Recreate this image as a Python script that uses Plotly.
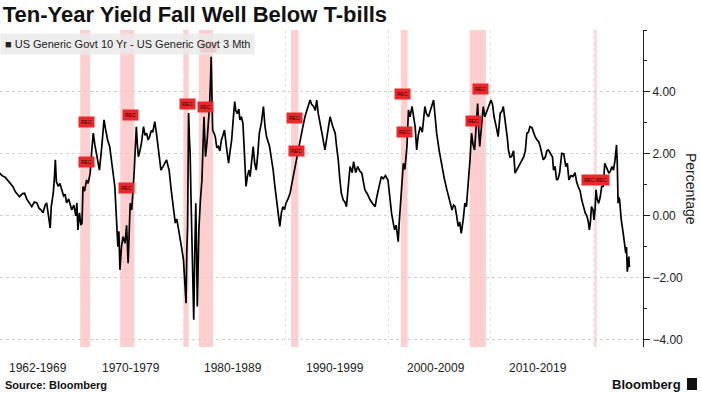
import plotly.graph_objects as go

# ---- data (decimal years, spread in percentage points) ----
years = [1962.0,1962.3,1962.6,1962.9,1963.1,1963.35,1963.6,1963.8,1964.0,1964.3,1964.5,1964.7,1965.0,1965.2,1965.45,1965.7,1965.9,
1966.1,1966.3,1966.5,1966.65,1966.8,1967.0,1967.1,1967.3,1967.4,1967.5,1967.6,1967.8,1967.95,1968.1,1968.3,1968.45,1968.6,1968.8,
1969.0,1969.1,1969.3,1969.5,1969.6,1969.7,1969.85,1970.0,1970.1,1970.2,1970.35,1970.55,1970.7,1970.9,1971.05,1971.2,1971.35,1971.5,
1971.65,1971.8,1972.0,1972.15,1972.25,1972.4,1972.6,1972.8,1972.95,1973.1,1973.3,1973.45,1973.6,1973.7,1973.8,1973.95,1974.1,1974.3,
1974.45,1974.6,1974.7,1974.8,1974.95,1975.1,1975.2,1975.3,1975.4,1975.5,1975.6,1975.75,1975.9,1976.1,1976.25,1976.4,1976.55,1976.7,
1976.85,1977.0,1977.2,1977.35,1977.5,1977.65,1977.8,1978.0,1978.2,1978.35,1978.5,1978.6,1978.8,1979.0,1979.2,1979.35,1979.5,1979.65,
1979.8,1980.0,1980.1,1980.15,1980.25,1980.32,1980.4,1980.45,1980.5,1980.58,1980.65,1980.72,1980.8,1980.88,1980.95,1981.0,1981.1,1981.2,
1981.27,1981.35,1981.42,1981.5,1981.65,1981.8,1981.9,1982.0,1982.08,1982.15,1982.3,1982.4,1982.55,1982.65,1982.7,1982.78,1982.85,1983.0,
1983.1,1983.25,1983.4,1983.55,1983.7,1983.85,1984.0,1984.2,1984.4,1984.55,1984.7,1984.85,1985.0,1985.1,1985.25,1985.4,1985.5,1985.65,
1985.8,1985.95,1986.1,1986.25,1986.4,1986.5,1986.65,1986.8,1986.95,1987.1,1987.25,1987.4,1987.6,1987.8,1987.95,1988.1,1988.25,1988.4,
1988.6,1988.75,1988.9,1989.1,1989.25,1989.4,1989.55,1989.7,1989.85,1990.0,1990.2,1990.4,1990.55,1990.7,1990.85,1991.0,1991.2,1991.4,
1991.6,1991.85,1992.1,1992.35,1992.5,1992.7,1992.85,1993.0,1993.15,1993.3,1993.55,1993.8,1994.0,1994.3,1994.55,1994.8,1994.95,1995.1,
1995.25,1995.4,1995.6,1995.75,1995.9,1996.05,1996.25,1996.45,1996.6,1996.8,1997.0,1997.2,1997.4,1997.55,1997.7,1997.95,1998.2,1998.45,
1998.7,1998.85,1999.0,1999.15,1999.3,1999.5,1999.7,1999.95,2000.1,2000.3,2000.45,2000.6,2000.75,2000.95,2001.05,2001.15,2001.3,2001.45,
2001.6,2001.8,2001.95,2002.1,2002.3,2002.45,2002.6,2002.75,2002.9,2003.1,2003.3,2003.55,2003.7,2003.9,2004.1,2004.4,2004.55,2004.7,
2004.95,2005.2,2005.45,2005.7,2005.95,2006.2,2006.35,2006.5,2006.65,2006.8,2006.95,2007.1,2007.3,2007.45,2007.6,2007.8,2007.95,2008.1,
2008.25,2008.4,2008.55,2008.7,2008.8,2008.9,2009.05,2009.25,2009.4,2009.5,2009.75,2010.0,2010.15,2010.3,2010.5,2010.7,2010.9,2011.1,
2011.2,2011.35,2011.5,2011.6,2011.7,2011.85,2012.0,2012.2,2012.35,2012.55,2012.8,2013.0,2013.2,2013.35,2013.5,2013.65,2013.8,2014.0,
2014.15,2014.3,2014.5,2014.65,2014.8,2014.95,2015.1,2015.3,2015.45,2015.6,2015.8,2016.0,2016.1,2016.25,2016.4,2016.55,2016.7,2016.9,
2017.1,2017.3,2017.45,2017.6,2017.8,2018.0,2018.2,2018.35,2018.5,2018.7,2018.85,2019.0,2019.2,2019.35,2019.5,2019.6,2019.7,2019.8,
2019.95,2020.05,2020.15,2020.25,2020.35,2020.5,2020.65,2020.8,2020.95,2021.1,2021.25,2021.5,2021.65,2021.8,2021.95,2022.1,2022.25,
2022.32,2022.4,2022.47,2022.55,2022.7,2022.9,2023.0,2023.15,2023.22,2023.3,2023.38,2023.45,2023.5]

spread = [1.40,1.30,1.25,1.15,1.05,0.95,0.78,0.70,0.62,0.72,0.73,0.55,0.40,0.30,0.45,0.42,0.25,
0.20,0.10,0.35,0.42,0.05,-0.39,0.30,0.74,1.20,1.81,1.10,0.95,1.05,0.84,0.65,0.70,0.42,0.55,
0.30,0.19,0.35,0.00,0.42,-0.45,0.10,-0.30,-0.23,0.95,0.80,1.16,1.05,1.38,2.10,2.67,2.30,2.03,
1.75,1.48,2.13,2.70,3.10,2.80,2.45,2.24,1.80,1.40,0.95,0.00,-0.99,-0.50,-1.74,-1.00,-0.67,-0.88,
-0.30,-1.53,-0.20,0.41,0.19,0.90,1.48,2.20,2.88,2.30,1.91,2.10,2.35,2.88,2.60,2.67,2.45,2.56,
2.75,2.70,3.04,2.70,2.34,1.90,1.48,1.59,1.70,1.81,1.60,1.48,0.84,0.30,-0.23,-0.10,-0.45,-0.70,
-0.99,-1.42,-1.90,-2.39,-2.82,-1.20,-0.34,1.50,3.32,2.50,2.03,0.80,-0.45,-1.50,-2.60,-3.35,-1.20,0.41,
-1.00,-2.92,-1.80,-0.45,0.50,1.16,2.20,3.20,2.50,1.91,2.40,2.77,3.60,4.50,5.14,3.80,2.77,2.65,
2.56,2.20,2.24,2.10,2.45,2.60,2.77,2.20,1.70,2.10,2.45,3.10,3.69,3.40,3.30,3.45,3.10,3.20,
2.99,2.00,0.95,1.30,1.48,1.27,1.90,2.24,1.70,1.48,2.00,2.67,3.00,3.53,2.90,2.56,2.40,2.24,
1.80,1.48,1.00,0.52,0.10,-0.34,0.10,0.30,0.20,0.41,0.55,0.73,1.00,1.27,1.50,1.81,2.20,2.56,
2.80,3.20,3.50,3.74,3.60,3.53,3.40,3.74,3.30,2.99,2.60,2.13,2.60,3.20,2.90,2.67,2.20,1.81,
1.20,0.73,0.50,0.45,0.30,0.80,1.59,1.40,1.75,1.40,1.59,1.45,1.38,1.10,0.84,0.70,0.52,0.40,
0.30,0.60,0.84,1.00,1.27,1.20,1.30,1.16,0.60,0.09,-0.20,-0.45,-0.30,-0.83,-0.20,0.30,1.00,1.70,
1.50,2.24,3.42,3.20,3.53,3.20,2.88,2.13,2.60,2.88,2.70,3.53,3.30,3.20,3.40,3.74,3.20,2.67,
2.10,1.59,1.20,0.84,0.50,0.19,0.35,0.30,0.00,-0.34,-0.20,-0.56,-0.10,0.41,0.30,1.05,1.80,2.67,
2.30,2.13,2.80,3.63,2.80,2.24,2.80,3.53,3.20,3.30,3.50,3.74,3.60,3.20,2.90,2.56,3.31,3.40,
3.53,3.20,2.88,2.50,2.13,1.90,1.91,2.10,1.38,1.50,1.70,1.80,1.91,2.10,2.67,2.70,2.88,2.85,
2.70,2.56,2.45,2.40,2.24,2.00,1.81,1.90,2.10,2.13,2.00,1.90,1.48,1.60,1.16,1.20,1.40,2.02,
2.00,1.59,1.70,1.16,1.30,1.27,1.40,1.10,0.95,0.80,0.52,0.30,0.09,0.00,-0.20,-0.45,-0.20,0.30,
0.20,-0.13,0.20,0.84,0.55,0.41,0.60,0.95,0.95,1.70,1.60,1.38,1.45,1.59,1.48,1.80,2.29,
1.70,0.41,0.60,0.52,-0.10,-0.56,-0.80,-1.20,-1.00,-1.80,-1.55,-1.31,-1.65]

# NBER recessions
rec_start = [1969.92, 1973.83, 1980.0, 1981.5, 1990.5, 2001.2, 2007.92, 2020.1]
rec_end   = [1970.88, 1975.2, 1980.5, 1982.87, 1991.2, 2001.87, 2009.5, 2020.3]

# "REC" flag markers
flag_x = [1970.5, 1970.5, 1974.8, 1974.4, 1980.35, 1982.1, 1982.4, 1990.8, 1991.0, 2001.4, 2001.6, 2008.3, 2009.0, 2020.15]
flag_y = [3.02, 1.74, 3.26, 0.90, 3.62, 3.50, 5.46, 3.16, 2.11, 3.92, 2.72, 3.06, 4.10, 1.16]
flag_t = ["REC"] * 13 + ["REC REC"]

decade_labels = ["1962-1969", "1970-1979", "1980-1989", "1990-1999", "2000-2009", "2010-2019"]
decade_pos = [1965.8, 1974.9, 1984.8, 1994.8, 2004.6, 2014.6]
grid_years = [1970, 1980, 1990, 2000, 2010, 2020]
y_ticks = [-4, -2, 0, 2, 4]

FONT = "Liberation Sans"

fig = go.Figure()
fig.add_trace(go.Scatter(x=years, y=spread, mode="lines",
                         line=dict(color="black", width=1.7), showlegend=False,
                         hoverinfo="skip"))

for s, e in zip(rec_start, rec_end):
    fig.add_shape(type="rect", xref="x", yref="paper", x0=s, x1=e, y0=0, y1=1,
                  fillcolor="rgba(255,160,160,0.5)", line=dict(width=0), layer="below")

ann = []
for x, y, t in zip(flag_x, flag_y, flag_t):
    ann.append(dict(x=x, y=y, xref="x", yref="y", text=t, showarrow=False,
                    font=dict(family=FONT, size=5, color="#3a0000"),
                    bgcolor="#e8282a", borderpad=2))

for lab, pos in zip(decade_labels, decade_pos):
    ann.append(dict(x=pos, y=0, xref="x", yref="paper", yanchor="middle", yshift=-21,
                    text=lab, showarrow=False, font=dict(family=FONT, size=12, color="#222")))

# legend box
ann.append(dict(x=0, y=(347 - 33) / 317, xref="paper", yref="paper", xanchor="left", yanchor="top",
                text="■ US Generic Govt 10 Yr - US Generic Govt 3 Mth", showarrow=False,
                font=dict(family=FONT, size=11, color="#222"),
                bgcolor="rgba(234,234,234,0.85)", borderpad=4, align="left"))
# axis title
ann.append(dict(x=691 / 643, y=(347 - 189) / 317, xref="paper", yref="paper",
                xanchor="center", yanchor="middle",
                text="Percentage", textangle=90, showarrow=False,
                font=dict(family=FONT, size=14, color="#222")))
# source / branding
ann.append(dict(x=3 / 643, y=(347 - 385) / 317, xref="paper", yref="paper", xanchor="left",
                yanchor="middle", text="<b>Source: Bloomberg</b>", showarrow=False,
                font=dict(family=FONT, size=11, color="#111")))
ann.append(dict(x=683 / 643, y=(347 - 384) / 317, xref="paper", yref="paper", xanchor="right",
                yanchor="middle", text="<b>Bloomberg</b>", showarrow=False,
                font=dict(family=FONT, size=13, color="#111")))

fig.add_shape(type="rect", xref="paper", yref="paper",
              x0=687 / 643, x1=697 / 643, y0=(347 - 390) / 317, y1=(347 - 378) / 317,
              fillcolor="#111", line=dict(width=0))

fig.update_layout(
    width=701, height=393,
    margin=dict(l=0, r=58, t=30, b=46),
    paper_bgcolor="white", plot_bgcolor="white",
    title=dict(text="<b>Ten-Year Yield Fall Well Below T-bills</b>", x=0.004, xanchor="left",
               xref="container", y=1 - 14 / 393, yanchor="middle", yref="container",
               font=dict(family=FONT, size=22, color="#111")),
    annotations=ann,
    showlegend=False,
)
fig.update_xaxes(range=[1962.1, 2024.83], showline=False, zeroline=False, ticks="",
                 showticklabels=False, tickvals=grid_years, showgrid=True,
                 gridcolor="#e4e4e4", griddash="dot", gridwidth=1)
fig.update_yaxes(range=[-4.23, 6.0], side="right", showline=True, linecolor="#222", linewidth=1,
                 ticks="outside", ticklen=6, tickcolor="#222", tickvals=y_ticks, tickformat=".2f",
                 tickfont=dict(family=FONT, size=12, color="#222"),
                 minor=dict(dtick=1, ticks="outside", ticklen=3, tickcolor="#222", showgrid=False),
                 showgrid=True, gridcolor="#d2d2d2", griddash="dot", zeroline=False)

fig.write_html("out.html", config={"displayModeBar": False},
               post_script="document.body.style.margin='0';")
